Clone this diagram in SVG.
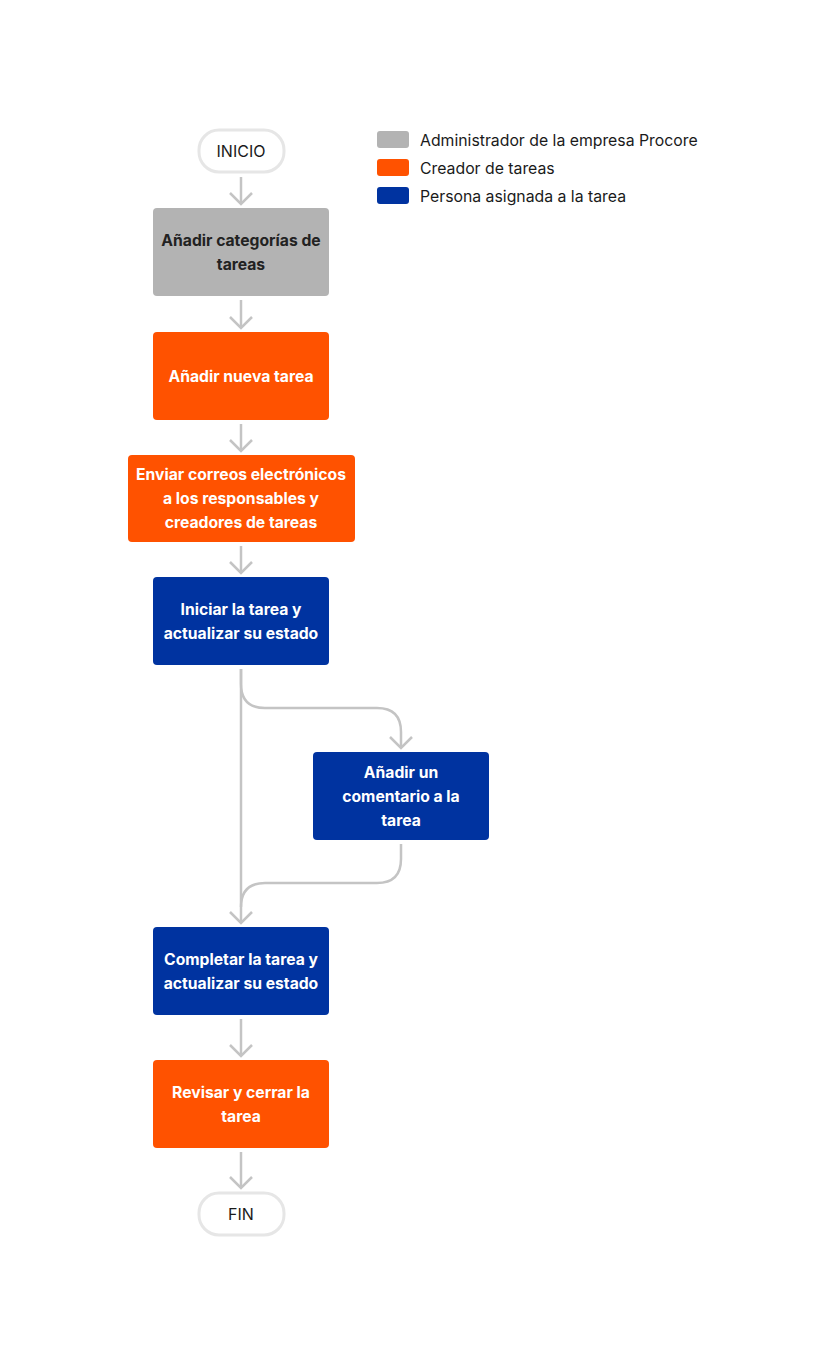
<svg xmlns="http://www.w3.org/2000/svg" width="825" height="1365" viewBox="0 0 825 1365">
<style>
.t{font-family:Inter,"Noto Sans","Liberation Sans",sans-serif;font-size:15.7px;font-weight:700;text-anchor:middle}
.w{fill:#ffffff}
.d{fill:#222222}
.l{font-family:Inter,"Noto Sans","Liberation Sans",sans-serif;font-size:15.8px;fill:#1a1a1a}
.term{fill:#ffffff;stroke:#e6e6e6;stroke-width:3}
.tt{font-family:Inter,"Noto Sans","Liberation Sans",sans-serif;font-size:16px;fill:#1a1a1a;text-anchor:middle}
.c{fill:none;stroke:#c4c4c4;stroke-width:2.5;marker-end:url(#ah)}
.c2{fill:none;stroke:#c4c4c4;stroke-width:2.5}
</style>
<defs>
<marker id="ah" markerUnits="userSpaceOnUse" viewBox="-13 -13 16 26" refX="0" refY="0" markerWidth="16" markerHeight="26" orient="auto" overflow="visible">
<path d="M-11,-11 L0,0 L-11,11" fill="none" stroke="#c4c4c4" stroke-width="2.5"/>
</marker>
</defs>
<rect width="825" height="1365" fill="#ffffff"/>
<g id="legend">
<rect x="377" y="131" width="32" height="17" rx="3" fill="#b3b3b3"/>
<text class="l" x="420" y="146">Administrador de la empresa Procore</text>
<rect x="377" y="159" width="32" height="17" rx="3" fill="#ff5200"/>
<text class="l" x="420" y="174">Creador de tareas</text>
<rect x="377" y="187" width="32" height="17" rx="3" fill="#0033a0"/>
<text class="l" x="420" y="202">Persona asignada a la tarea</text>
</g>
<g id="connectors">
<path class="c" d="M241,177 V204"/>
<path class="c" d="M241,300 V328"/>
<path class="c" d="M241,424 V451"/>
<path class="c" d="M241,546 V573"/>
<path class="c" d="M241,669 V923"/>
<path class="c" d="M241,669 V684 Q241,708 265,708 H377 Q401,708 401,732 V748"/>
<path class="c2" d="M401,844 V859 Q401,883 377,883 H265 Q241,883 241,907"/>
<path class="c" d="M241,1019 V1056"/>
<path class="c" d="M241,1152 V1188"/>
</g>
<g id="inicio">
<rect class="term" x="199" y="130" width="85" height="42" rx="20"/>
<text class="tt" x="241" y="157">INICIO</text>
</g>
<g id="n1">
<rect x="153" y="208" width="176" height="88" rx="4" fill="#b3b3b3"/>
<text class="t d" x="241" y="246">Añadir categorías de</text>
<text class="t d" x="241" y="270">tareas</text>
</g>
<g id="n2">
<rect x="153" y="332" width="176" height="88" rx="4" fill="#ff5200"/>
<text class="t w" x="241" y="382">Añadir nueva tarea</text>
</g>
<g id="n3">
<rect x="128" y="455" width="227" height="87" rx="4" fill="#ff5200"/>
<text class="t w" x="241" y="480">Enviar correos electrónicos</text>
<text class="t w" x="241" y="504">a los responsables y</text>
<text class="t w" x="241" y="528">creadores de tareas</text>
</g>
<g id="n4">
<rect x="153" y="577" width="176" height="88" rx="4" fill="#0033a0"/>
<text class="t w" x="241" y="615">Iniciar la tarea y</text>
<text class="t w" x="241" y="639">actualizar su estado</text>
</g>
<g id="n5">
<rect x="313" y="752" width="176" height="88" rx="4" fill="#0033a0"/>
<text class="t w" x="401" y="778">Añadir un</text>
<text class="t w" x="401" y="802">comentario a la</text>
<text class="t w" x="401" y="826">tarea</text>
</g>
<g id="n6">
<rect x="153" y="927" width="176" height="88" rx="4" fill="#0033a0"/>
<text class="t w" x="241" y="965">Completar la tarea y</text>
<text class="t w" x="241" y="989">actualizar su estado</text>
</g>
<g id="n7">
<rect x="153" y="1060" width="176" height="88" rx="4" fill="#ff5200"/>
<text class="t w" x="241" y="1098">Revisar y cerrar la</text>
<text class="t w" x="241" y="1122">tarea</text>
</g>
<g id="fin">
<rect class="term" x="199" y="1193" width="85" height="42" rx="20"/>
<text class="tt" x="241" y="1220">FIN</text>
</g>
</svg>
